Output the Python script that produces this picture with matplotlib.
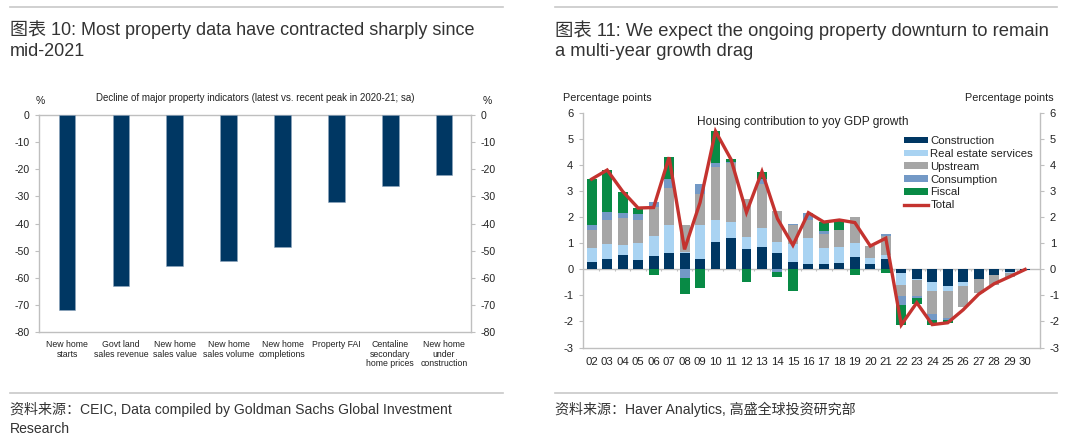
import matplotlib
matplotlib.use("Agg")
import matplotlib.pyplot as plt
import numpy as np
from matplotlib.patches import Patch
from matplotlib.lines import Line2D

plt.rcParams['font.family'] = ['Liberation Sans', 'Noto Sans CJK SC', 'DejaVu Sans']

# ---------------- data: left chart ----------------
left_categories = ["New home\nstarts", "Govt land\nsales revenue", "New home\nsales value",
                   "New home\nsales volume", "New home\ncompletions", "Property FAI",
                   "Centaline\nsecondary\nhome prices", "New home\nunder\nconstruction"]
left_values = [-72.0, -62.9, -55.6, -53.7, -48.8, -32.1, -26.0, -22.2]
left_yticks = [0, -10, -20, -30, -40, -50, -60, -70, -80]

# ---------------- data: right chart ----------------
years = ["02", "03", "04", "05", "06", "07", "08", "09", "10", "11", "12", "13", "14", "15",
         "16", "17", "18", "19", "20", "21", "22", "23", "24", "25", "26", "27", "28", "29", "30"]
construction = [0.27, 0.41, 0.54, 0.38, 0.52, 0.62, 0.65, 0.41, 1.04, 1.22, 0.77, 0.85, 0.64, 0.27,
                0.20, 0.20, 0.23, 0.46, 0.19, 0.42, -0.15, -0.38, -0.50, -0.62, -0.50, -0.35, -0.20, -0.11, -0.02]
real_estate = [0.56, 0.55, 0.40, 0.65, 0.78, 1.10, 0.02, 1.31, 0.87, 0.59, 0.46, 0.73, 0.40, 0.69,
               0.99, 0.61, 0.64, 0.57, 0.26, 0.13, -0.45, -0.02, -0.32, -0.20, -0.12, -0.03, -0.03, -0.01, 0.0]
upstream = [0.68, 0.94, 1.05, 0.87, 1.11, 1.42, 1.03, 1.18, 2.01, 2.27, 1.46, 1.69, 1.20, 0.74,
            0.71, 0.57, 0.64, 1.00, 0.45, 0.73, -0.41, -0.62, -0.91, -1.03, -0.84, -0.54, -0.36, -0.17, -0.02]
consumption = [0.19, 0.29, 0.16, 0.23, 0.17, 0.32, -0.32, 0.40, 0.17, 0.06, 0.0, 0.20, -0.10, 0.04,
               0.28, 0.09, 0.0, 0.0, 0.0, 0.08, -0.34, -0.08, -0.22, -0.11, 0.0, 0.0, 0.0, 0.0, 0.0]
fiscal = [1.77, 1.63, 0.84, 0.23, -0.20, 0.85, -0.61, -0.73, 1.22, 0.09, -0.50, 0.29, -0.19, -0.81,
          0.0, 0.34, 0.35, -0.22, 0.0, -0.15, -0.77, -0.23, -0.17, -0.09, 0.0, 0.0, 0.0, 0.0, 0.0]
total = [3.47, 3.82, 3.0, 2.36, 2.38, 4.31, 0.77, 2.57, 5.31, 4.23, 2.19, 3.76, 1.95, 0.93,
         2.18, 1.82, 1.9, 1.8, 0.9, 1.2, -2.13, -1.28, -2.12, -2.05, -1.55, -0.95, -0.55, -0.28, 0.0]
series_names = ["Construction", "Real estate services", "Upstream", "Consumption", "Fiscal"]
right_yticks = [6, 5, 4, 3, 2, 1, 0, -1, -2, -3]

# ---------------- styles ----------------
navy = "#003763"
c_colors = ["#003763", "#A9D3F2", "#A6A6A6", "#7399C6", "#088A45"]
red = "#C4332F"
grid_gray = "#BFBFBF"
txt = "#222222"

fig = plt.figure(figsize=(10.8, 4.42), dpi=100)

def fx(px):
    return px / 1080.0

def fy(py):
    return 1 - py / 442.0

# decorative rules
for x0, x1 in [(10, 503), (555, 1057)]:
    for yy in [7, 392.5]:
        fig.add_artist(Line2D([fx(x0), fx(x1)], [fy(yy), fy(yy)], color="#C8C8C8", lw=1.2))

# titles
fig.text(fx(10), fy(30), "图表 10: Most property data have contracted sharply since", fontsize=13.0,
         color="#333333", va="center", ha="left")
fig.text(fx(10), fy(52), "mid-2021", fontsize=13.0, color="#333333", va="center", ha="left")
fig.text(fx(555), fy(30), "图表 11: We expect the ongoing property downturn to remain", fontsize=13.2,
         color="#333333", va="center", ha="left")
fig.text(fx(555), fy(52), "a multi-year growth drag", fontsize=13.2, color="#333333", va="center", ha="left")

# sources
fig.text(fx(10), fy(409), "资料来源：CEIC, Data compiled by Goldman Sachs Global Investment", fontsize=10.1,
         color="#333333", va="center", ha="left")
fig.text(fx(10), fy(429), "Research", fontsize=10.1, color="#333333", va="center", ha="left")
fig.text(fx(555), fy(409), "资料来源：Haver Analytics, 高盛全球投资研究部", fontsize=10.1,
         color="#333333", va="center", ha="left")

# ---------------- left chart ----------------
axL = fig.add_axes([fx(39), fy(332), fx(471 - 39), (332 - 115) / 442.0])
xl = np.arange(len(left_values))
axL.bar(xl, left_values, width=0.31, color=navy, edgecolor="#8FA6BE", linewidth=0.4, zorder=3)
axL.set_xlim(-0.52, 7.5)
axL.set_ylim(-80, 0)
axL.set_yticks(left_yticks)
axL.set_yticklabels([str(v) for v in left_yticks])
axL.tick_params(axis="y", which="both", left=True, right=True, labelleft=True, labelright=True,
                labelsize=7.6, colors=txt, length=3, direction="out", pad=4)
axL.tick_params(axis="y", color=grid_gray)
axL.set_xticks(xl)
axL.set_xticklabels(left_categories, fontsize=6.3, color=txt, linespacing=1.05)
axL.tick_params(axis="x", length=0, pad=6)
for s in ["left", "right", "bottom", "top"]:
    axL.spines[s].set_color(grid_gray)
    axL.spines[s].set_linewidth(1.0)
axL.text(0.5, 1.08, "Decline of major property indicators (latest vs. recent peak in 2020-21; sa)",
         transform=axL.transAxes, ha="center", va="center", fontsize=7, color=txt)
fig.text(fx(40), fy(101), "%", fontsize=7.5, ha="center", va="center", color=txt)
fig.text(fx(487), fy(101), "%", fontsize=7.5, ha="center", va="center", color=txt)

# ---------------- right chart ----------------
axR = fig.add_axes([fx(583), fy(347.5), fx(1040 - 583), (347.5 - 113.3) / 442.0])
xr = np.arange(len(years))
pos_base = np.zeros(len(years))
neg_base = np.zeros(len(years))
for name, vals, col in zip(series_names, [construction, real_estate, upstream, consumption, fiscal], c_colors):
    v = np.array(vals)
    pv = np.where(v > 0, v, 0)
    nv = np.where(v < 0, v, 0)
    axR.bar(xr, pv, bottom=pos_base, width=0.64, color=col, linewidth=0, zorder=3)
    axR.bar(xr, nv, bottom=neg_base, width=0.64, color=col, linewidth=0, zorder=3)
    pos_base += pv
    neg_base += nv
axR.plot(xr, total, color=red, lw=2.4, zorder=5, solid_joinstyle="miter")
axR.axhline(0, color=grid_gray, lw=1.0, zorder=2)
axR.vlines(xr[:-1] + 0.5, -0.07, 0, color=grid_gray, lw=0.8, zorder=2)
axR.set_xlim(-0.56, 28.96)
axR.set_ylim(-3, 6)
axR.set_yticks(right_yticks)
axR.set_yticklabels([str(v) for v in right_yticks])
axR.tick_params(axis="y", left=True, right=True, labelleft=True, labelright=True, labelsize=8,
                colors=txt, length=3, direction="out", pad=4)
axR.tick_params(axis="y", color=grid_gray)
axR.set_xticks(xr)
axR.set_xticklabels(years, fontsize=8.2, color=txt)
axR.tick_params(axis="x", length=0, pad=7)
for s in ["left", "right", "bottom"]:
    axR.spines[s].set_color(grid_gray)
    axR.spines[s].set_linewidth(1.0)
axR.spines["top"].set_visible(False)
fig.text(fx(803), fy(122), "Housing contribution to yoy GDP growth", fontsize=8.6, ha="center",
         va="center", color=txt)
fig.text(fx(563), fy(98), "Percentage points", fontsize=7.8, ha="left", va="center", color=txt)
fig.text(fx(1054), fy(98), "Percentage points", fontsize=7.8, ha="right", va="center", color=txt)

handles = [Patch(facecolor=c, edgecolor="none") for c in c_colors] + [Line2D([0], [0], color=red, lw=2.4)]
labels = series_names + ["Total"]
leg = axR.legend(handles, labels, loc="upper left", bbox_to_anchor=(fx(904), fy(136)),
                 bbox_transform=fig.transFigure, frameon=False, fontsize=8.2, borderpad=0,
                 borderaxespad=0, handlelength=2.1, handleheight=0.5, handletextpad=0.2,
                 labelspacing=0.25)
for t in leg.get_texts():
    t.set_color(txt)

fig.savefig("out.png", dpi=100)
